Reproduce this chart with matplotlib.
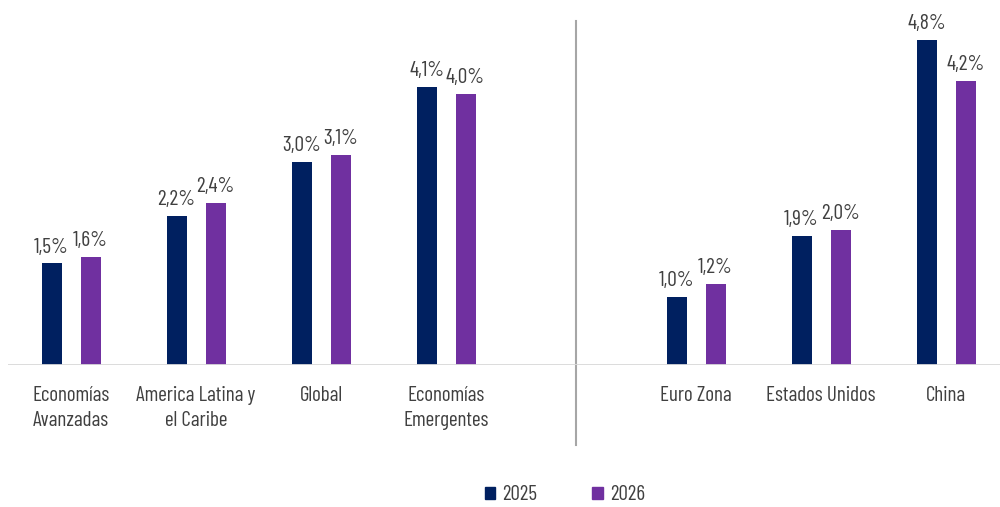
import matplotlib

matplotlib.use("Agg")
import matplotlib.pyplot as plt

# ── data ─────────────────────────────────────────────────────────────
CATEGORIES = ["Economías\nAvanzadas", "America Latina y\nel Caribe", "Global",
              "Economías\nEmergentes", "", "Euro Zona", "Estados Unidos", "China"]
Y2025 = [1.5, 2.2, 3.0, 4.1, None, 1.0, 1.9, 4.8]
Y2026 = [1.6, 2.4, 3.1, 4.0, None, 1.2, 2.0, 4.2]
SERIES = ["2025", "2026"]

NAVY = "#002060"
PURPLE = "#7030A0"
TEXT = "#404040"

plt.rcParams["font.family"] = ["Barlow Condensed", "DejaVu Sans"]
plt.rcParams["font.weight"] = 400

fig = plt.figure(figsize=(10, 5.07), dpi=100)
ax = fig.add_axes([0.008, 0.28, 0.992, 0.72])

px = 125.0                      # pixels per category slot
ypx = 67.7                      # pixels per 1 %
ax.set_xlim(-63 / px, 929 / px)
ax.set_ylim(0, 365 / ypx)

w = 20 / px
off = 19.5 / px
for i, (a, b) in enumerate(zip(Y2025, Y2026)):
    if a is None:
        continue
    for x, v, c in ((i - off, a, NAVY), (i + off, b, PURPLE)):
        ax.bar(x, v, width=w, color=c, zorder=3)
        ax.annotate(f"{v:.1f}%".replace(".", ","), (x, v), textcoords="offset points",
                    xytext=(0, 5), ha="center", va="bottom", color=TEXT, fontsize=15.5)

for i, lab in enumerate(CATEGORIES):
    if lab:
        ax.annotate(lab, (i, 0), textcoords="offset points", xytext=(0, -15),
                    ha="center", va="top", color=TEXT, fontsize=15.2, linespacing=1.38)

# baseline + divider
ax.axhline(0, color="#d9d9d9", lw=1.3, zorder=4)
ax.plot([4.036, 4.036], [-80 / ypx, 344 / ypx], color="#a6a6a6", lw=1.5,
        clip_on=False)

for s in ax.spines.values():
    s.set_visible(False)
ax.set_xticks([])
ax.set_yticks([])

handles = [plt.Rectangle((0, 0), 1, 1, color=c) for c in (NAVY, PURPLE)]
fig.legend(handles, SERIES, loc="center", bbox_to_anchor=(0.565, 0.024), ncol=2,
           frameon=False, fontsize=15.2, handlelength=0.5, handleheight=0.5,
           handletextpad=0.35, columnspacing=2.6, labelcolor=TEXT)

fig.savefig("out.png")
